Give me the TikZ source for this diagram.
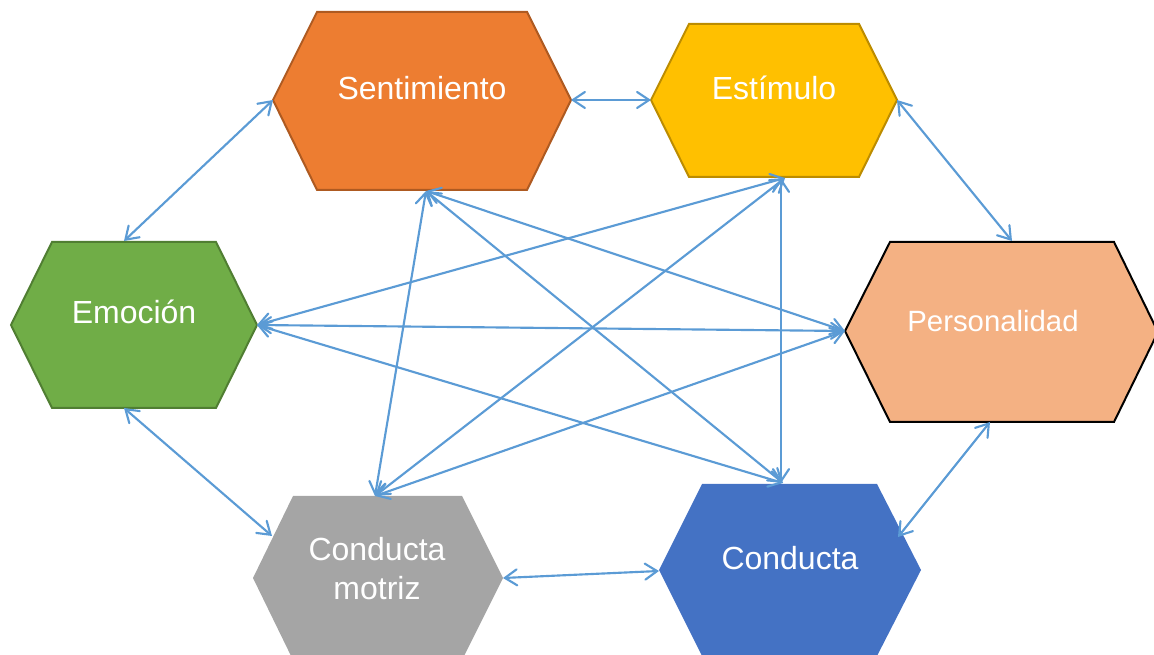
\documentclass[tikz,border=0pt]{standalone}
\usepackage{fontspec}
\setmainfont{Liberation Sans}
\usetikzlibrary{arrows.meta}
\definecolor{orangeF}{HTML}{ED7D31}
\definecolor{orangeD}{HTML}{AE5A21}
\definecolor{goldF}{HTML}{FFC000}
\definecolor{goldD}{HTML}{BC8C00}
\definecolor{greenF}{HTML}{70AD47}
\definecolor{greenD}{HTML}{507E32}
\definecolor{peachF}{HTML}{F4B183}
\definecolor{grayF}{HTML}{A5A5A5}
\definecolor{blueF}{HTML}{4472C4}
\definecolor{arrowblue}{HTML}{5B9BD5}
\begin{document}
\begin{tikzpicture}[x=0.75pt,y=-0.75pt,
  conn/.style={draw=arrowblue, line width=1.6pt, line cap=round,
    {Straight Barb[length=9pt,width=12pt,line cap=round]}-{Straight Barb[length=9pt,width=12pt,line cap=round]}},
  lbl/.style={text=white, font=\fontsize{24}{29}\selectfont, anchor=base, inner sep=0pt, align=center},
  hexo/.style={line width=1.5pt, line join=miter}
]
\useasboundingbox (0,0) rectangle (1154,655);
\begin{scope}
\clip (0,0) rectangle (1154,655);
% hexagons
\path[hexo, fill=orangeF, draw=orangeD] (273,100)--(317,12)--(527,12)--(571,100)--(527,190)--(317,190)--cycle;
\path[hexo, fill=goldF, draw=goldD] (651,100)--(689,24)--(859,24)--(897,100)--(859,177)--(689,177)--cycle;
\path[hexo, fill=greenF, draw=greenD] (11,325)--(52,242)--(216,242)--(257,325)--(216,408)--(52,408)--cycle;
\path[hexo, fill=peachF, draw=black] (845,331)--(890,242)--(1114,242)--(1158,332)--(1114,422)--(890,422)--cycle;
\path[fill=grayF] (253,578)--(293,496)--(462,496)--(503,578)--(462,660)--(293,660)--cycle;
\path[fill=blueF] (659,570)--(702,484)--(877,484)--(921,570)--(877,656)--(702,656)--cycle;
\end{scope}
% labels
\node[lbl] (sent) at (422,100) {Sentimiento};
\node[lbl] (estim) at (774,100) {Estímulo};
\node[lbl] (emoc) at (134,324) {Emoción};
\node[lbl, font=\fontsize{22}{27}\selectfont] (pers) at (993,332) {Personalidad};
\node[lbl] (cmot) at (377,561) {Conducta};
\node[lbl] (cmot2) at (377,600) {motriz};
\node[lbl] (cond) at (790,570) {Conducta};
% attachment points
\coordinate (sL) at (273,100);
\coordinate (sR) at (571,100);
\coordinate (sB) at (426,191);
\coordinate (eL) at (651,100);
\coordinate (eR) at (897,100);
\coordinate (eB) at (785,178);
\coordinate (eBv) at (781,178);
\coordinate (emT) at (124,241);
\coordinate (emR) at (257,325);
\coordinate (emB) at (124,408);
\coordinate (pT) at (1012,241);
\coordinate (pL) at (845,331);
\coordinate (pB) at (990,422);
\coordinate (cmT) at (375,496);
\coordinate (cmL) at (272,536);
\coordinate (cmR) at (503,578);
\coordinate (cT) at (783,483);
\coordinate (cTv) at (781,483);
\coordinate (cL) at (659,571);
\coordinate (cR) at (898,537);
% connectors
\draw[conn] (sL) -- (emT);
\draw[conn] (sR) -- (eL);
\draw[conn] (eR) -- (pT);
\draw[conn] (emB) -- (cmL);
\draw[conn] (cmR) -- (cL);
\draw[conn] (pB) -- (cR);
\draw[conn] (sB) -- (cmT);
\draw[conn] (sB) -- (cT);
\draw[conn] (sB) -- (pL);
\draw[conn] (emR) -- (eB);
\draw[conn] (emR) -- (pL);
\draw[conn] (emR) -- (cT);
\draw[conn] (cmT) -- (eB);
\draw[conn] (cmT) -- (pL);
\draw[conn] (eBv) -- (cTv);
\end{tikzpicture}
\end{document}
